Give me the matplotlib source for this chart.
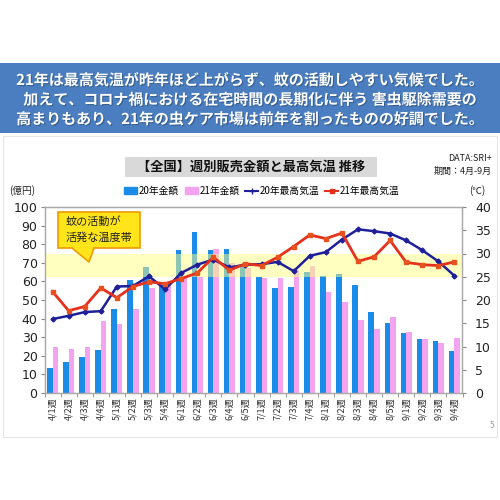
import numpy as np
import matplotlib
matplotlib.use("Agg")
import matplotlib.pyplot as plt
from matplotlib.patches import Rectangle, Polygon
from matplotlib.lines import Line2D
import matplotlib.patheffects as pe

plt.rcParams['font.family'] = ['Noto Sans CJK JP', 'DejaVu Sans']

weeks = ['4/1週', '4/2週', '4/3週', '4/4週', '5/1週', '5/2週', '5/3週', '5/4週',
         '6/1週', '6/2週', '6/3週', '6/4週', '6/5週', '7/1週', '7/2週', '7/3週',
         '7/4週', '8/1週', '8/2週', '8/3週', '8/4週', '8/5週', '9/1週', '9/2週',
         '9/3週', '9/4週']
sales_2020 = [13.7, 16.9, 19.3, 23.2, 45.2, 60.9, 68.0, 57.8, 76.8, 86.8, 76.8, 77.3, 67.9,
              62.2, 56.4, 56.8, 64.9, 62.7, 63.8, 58.2, 43.8, 37.9, 32.2, 29.1, 28.0, 22.8]
sales_2021 = [24.5, 23.6, 24.9, 38.5, 37.3, 45.2, 56.6, 58.0, 63.0, 62.5, 77.3, 69.7, 67.0,
              61.8, 62.0, 66.3, 68.5, 54.3, 48.7, 39.0, 34.3, 41.1, 32.7, 29.0, 26.8, 29.5]
temp_2020 = [15.9, 16.6, 17.4, 17.6, 22.9, 23.0, 25.1, 22.3, 25.8, 27.6, 28.7, 27.0, 27.6,
             27.7, 28.2, 26.2, 29.5, 30.3, 33.0, 35.2, 34.8, 34.3, 32.8, 30.7, 28.3, 25.2]
temp_2021 = [21.8, 17.7, 18.6, 22.6, 20.5, 22.9, 23.9, 23.5, 24.6, 25.8, 29.2, 26.4, 27.8,
             27.4, 29.2, 31.5, 34.0, 33.2, 34.4, 28.3, 29.3, 32.8, 28.1, 27.6, 27.4, 28.2]
band_temp = (25, 30)  # 蚊の活動が活発な温度帯

header_lines = ['21年は最高気温が昨年ほど上がらず、蚊の活動しやすい気候でした。',
                '加えて、コロナ禍における在宅時間の長期化に伴う 害虫駆除需要の',
                '高まりもあり、21年の虫ケア市場は前年を割ったものの好調でした。']

BLUE = '#1A8CE8'
PINK = '#F4A3F0'
NAVY = '#1F1F99'
RED = '#E4301C'

W, H = 500, 500
fig = plt.figure(figsize=(5, 5), dpi=100)


def fx(px):
    return px / W


def fy(py):
    return 1 - py / H


# slide background / header
fig.patches.append(Rectangle((fx(3), fy(437)), fx(494), 301 / H, transform=fig.transFigure,
                             facecolor='white', edgecolor='#E6E6E6', lw=0.8, zorder=-10))
fig.patches.append(Rectangle((0, fy(133)), 1, 70 / H, transform=fig.transFigure,
                             facecolor='#4A7EC0', edgecolor='none', zorder=-9))
for i, line in enumerate(header_lines):
    fig.text(0.5, fy(80 + 19.5 * i), line, ha='center', va='center', color='white',
             fontsize=10.8, fontweight='bold',
             path_effects=[pe.withSimplePatchShadow(offset=(0.8, -0.8), shadow_rgbFace='#2A4A70', alpha=0.6)])

# chart title
fig.patches.append(Rectangle((fx(125), fy(177)), fx(252), 20 / H, transform=fig.transFigure,
                             facecolor='#D9D9D9', edgecolor='none', zorder=-8))
fig.text(fx(251), fy(167), '【全国】週別販売金額と最高気温 推移', ha='center', va='center',
         fontsize=9.5, fontweight='bold', color='#111111')
fig.text(fx(492), fy(158), 'DATA:SRI+', ha='right', va='center', fontsize=6.5, color='#222222')
fig.text(fx(492), fy(171), '期間：4月-9月', ha='right', va='center', fontsize=6.5, color='#222222')
fig.text(fx(22), fy(191), '(億円)', ha='center', va='center', fontsize=7, color='#222222')
fig.text(fx(477), fy(191), '(℃)', ha='center', va='center', fontsize=7, color='#222222')

# axes
ax = fig.add_axes([fx(44.5), fy(393), fx(462.5 - 44.5), (393 - 207) / H])
ax2 = ax.twinx()
x = np.arange(len(weeks))
bw = 0.35
ax.bar(x - bw / 2, sales_2020, width=bw, color=BLUE, zorder=2, label='20年金額')
ax.bar(x + bw / 2, sales_2021, width=bw, color=PINK, zorder=2, label='21年金額')
ax.set_ylim(0, 100)
ax.set_xlim(-0.5, len(weeks) - 0.5)
ax.set_yticks(np.arange(0, 101, 10))
ax.set_xticks(x)
ax.set_xticklabels(weeks, rotation=90, fontsize=6.5, color='#333333')
ax.set_xticks(np.arange(-0.5, len(weeks), 1), minor=True)
ax.tick_params(axis='x', which='major', length=0, pad=3)
ax.tick_params(axis='x', which='minor', length=3, color='#888888')
ax.tick_params(axis='y', length=3, color='#888888', labelsize=9, pad=2, labelcolor='#222222')
for lab in ax.get_yticklabels():
    lab.set_fontfamily('DejaVu Sans')

ax2.axhspan(band_temp[0], band_temp[1], color='#FFFF80', alpha=0.5, lw=0, zorder=1)
ax2.plot(x, temp_2020, color=NAVY, lw=1.8, marker='D', ms=2.5, zorder=3, label='20年最高気温')
ax2.plot(x, temp_2021, color=RED, lw=2.0, marker='s', ms=3.5, mfc='#E8501E', mec='#E8501E',
         zorder=4, label='21年最高気温')
ax2.set_ylim(0, 40)
ax2.set_yticks(np.arange(0, 41, 5))
ax2.tick_params(axis='y', length=3, color='#888888', labelsize=9, pad=6, labelcolor='#222222')
for lab in ax2.get_yticklabels():
    lab.set_fontfamily('DejaVu Sans')

for a in (ax, ax2):
    for s in a.spines.values():
        s.set_color('#AAAAAA')
        s.set_linewidth(0.9)

# legend
handles = [Rectangle((0, 0), 1, 1, color=BLUE), Rectangle((0, 0), 1, 1, color=PINK),
           Line2D([], [], color=NAVY, lw=1.5, marker='+', ms=5),
           Line2D([], [], color=RED, lw=1.5, marker='s', ms=3)]
fig.legend(handles, ['20年金額', '21年金額', '20年最高気温', '21年最高気温'],
           loc='center', bbox_to_anchor=(fx(262), fy(191)), ncol=4, frameon=False,
           fontsize=7, handlelength=1.3, handleheight=0.7, handletextpad=0.2,
           columnspacing=0.6, borderpad=0)

# callout
pts = [(58, 212), (140, 212), (140, 248), (94, 248), (89, 262), (72, 248), (58, 248)]
fig.patches.append(Polygon([(fx(a), fy(b)) for a, b in pts], closed=True, transform=fig.transFigure,
                           facecolor='#FFE51A', edgecolor='#EE9A00', lw=1.2, zorder=10))
fig.text(fx(66), fy(222), '蚊の活動が', ha='left', va='center', fontsize=8, color='#222222', zorder=11)
fig.text(fx(66), fy(238), '活発な温度帯', ha='left', va='center', fontsize=8, color='#222222', zorder=11)

fig.text(fx(492), fy(425), '5', ha='center', va='center', fontsize=6, color='#999999')

fig.savefig('out.png', dpi=100)
